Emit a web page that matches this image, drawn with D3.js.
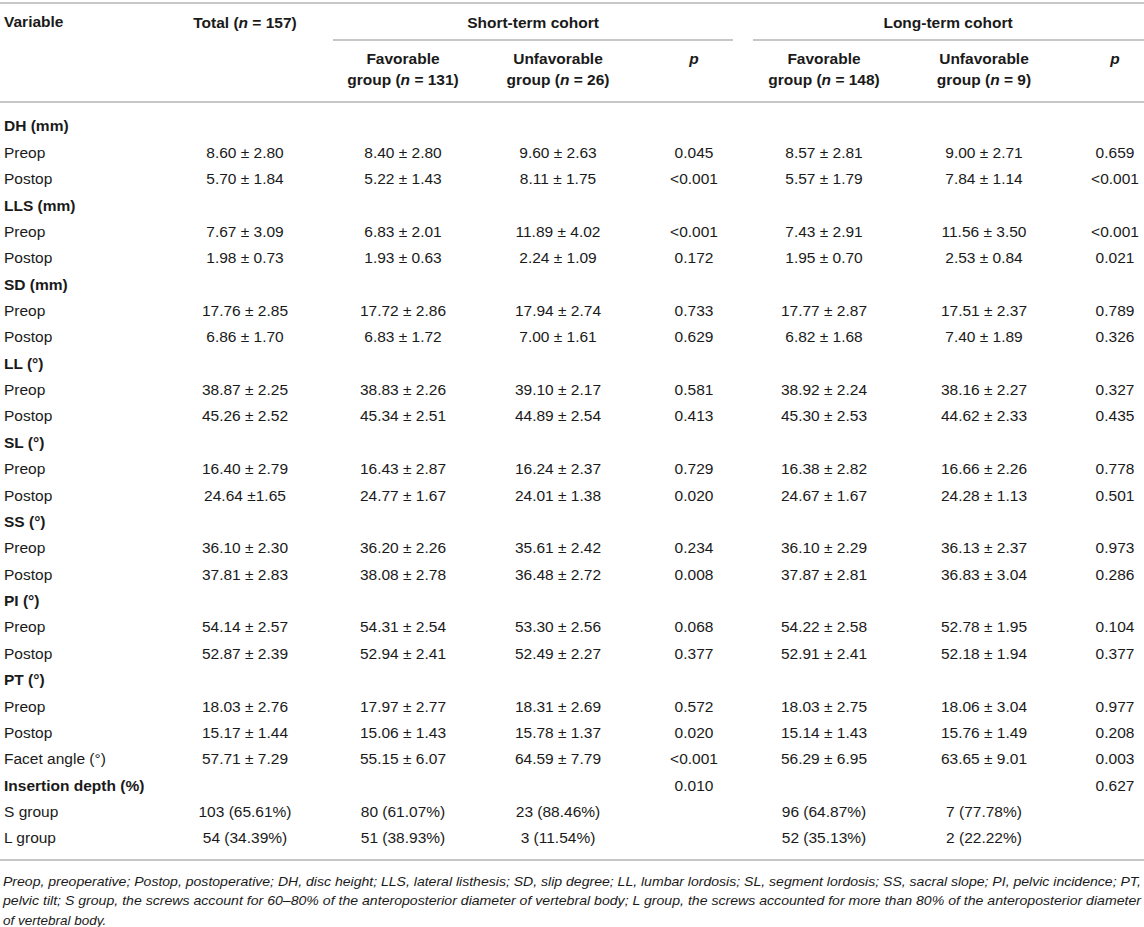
<!DOCTYPE html>
<html>
<head>
<meta charset="utf-8">
<script src="https://cdn.jsdelivr.net/npm/d3@7"></script>
<style>
  body { margin: 0; background: #fff; }
  svg text { font-family: "Liberation Sans", Arial, sans-serif; fill: #1a1a1a; }
  .rule { stroke: #b4b4b4; stroke-width: 1.6; }
</style>
</head>
<body>
<svg id="table"></svg>
<script>
// row labels, bold ones are section headers
var rowLabels = ["DH (mm)", "Preop", "Postop", "LLS (mm)", "Preop", "Postop", "SD (mm)", "Preop", "Postop",
    "LL (°)", "Preop", "Postop", "SL (°)", "Preop", "Postop", "SS (°)", "Preop", "Postop",
    "PI (°)", "Preop", "Postop", "PT (°)", "Preop", "Postop", "Facet angle (°)", "Insertion depth (%)",
    "S group", "L group"];
var sectionRows = ["DH (mm)", "LLS (mm)", "SD (mm)", "LL (°)", "SL (°)", "SS (°)", "PI (°)", "PT (°)", "Insertion depth (%)"];

var totalVals = ["", "8.60 ± 2.80", "5.70 ± 1.84", "", "7.67 ± 3.09", "1.98 ± 0.73", "", "17.76 ± 2.85", "6.86 ± 1.70",
    "", "38.87 ± 2.25", "45.26 ± 2.52", "", "16.40 ± 2.79", "24.64 ±1.65", "", "36.10 ± 2.30", "37.81 ± 2.83",
    "", "54.14 ± 2.57", "52.87 ± 2.39", "", "18.03 ± 2.76", "15.17 ± 1.44", "57.71 ± 7.29", "",
    "103 (65.61%)", "54 (34.39%)"];
var shortFav = ["", "8.40 ± 2.80", "5.22 ± 1.43", "", "6.83 ± 2.01", "1.93 ± 0.63", "", "17.72 ± 2.86", "6.83 ± 1.72",
    "", "38.83 ± 2.26", "45.34 ± 2.51", "", "16.43 ± 2.87", "24.77 ± 1.67", "", "36.20 ± 2.26", "38.08 ± 2.78",
    "", "54.31 ± 2.54", "52.94 ± 2.41", "", "17.97 ± 2.77", "15.06 ± 1.43", "55.15 ± 6.07", "",
    "80 (61.07%)", "51 (38.93%)"];
var shortUnfav = ["", "9.60 ± 2.63", "8.11 ± 1.75", "", "11.89 ± 4.02", "2.24 ± 1.09", "", "17.94 ± 2.74", "7.00 ± 1.61",
    "", "39.10 ± 2.17", "44.89 ± 2.54", "", "16.24 ± 2.37", "24.01 ± 1.38", "", "35.61 ± 2.42", "36.48 ± 2.72",
    "", "53.30 ± 2.56", "52.49 ± 2.27", "", "18.31 ± 2.69", "15.78 ± 1.37", "64.59 ± 7.79", "",
    "23 (88.46%)", "3 (11.54%)"];
var shortP = ["", "0.045", "<0.001", "", "<0.001", "0.172", "", "0.733", "0.629",
    "", "0.581", "0.413", "", "0.729", "0.020", "", "0.234", "0.008",
    "", "0.068", "0.377", "", "0.572", "0.020", "<0.001", "0.010", "", ""];
var longFav = ["", "8.57 ± 2.81", "5.57 ± 1.79", "", "7.43 ± 2.91", "1.95 ± 0.70", "", "17.77 ± 2.87", "6.82 ± 1.68",
    "", "38.92 ± 2.24", "45.30 ± 2.53", "", "16.38 ± 2.82", "24.67 ± 1.67", "", "36.10 ± 2.29", "37.87 ± 2.81",
    "", "54.22 ± 2.58", "52.91 ± 2.41", "", "18.03 ± 2.75", "15.14 ± 1.43", "56.29 ± 6.95", "",
    "96 (64.87%)", "52 (35.13%)"];
var longUnfav = ["", "9.00 ± 2.71", "7.84 ± 1.14", "", "11.56 ± 3.50", "2.53 ± 0.84", "", "17.51 ± 2.37", "7.40 ± 1.89",
    "", "38.16 ± 2.27", "44.62 ± 2.33", "", "16.66 ± 2.26", "24.28 ± 1.13", "", "36.13 ± 2.37", "36.83 ± 3.04",
    "", "52.78 ± 1.95", "52.18 ± 1.94", "", "18.06 ± 3.04", "15.76 ± 1.49", "63.65 ± 9.01", "",
    "7 (77.78%)", "2 (22.22%)"];
var longP = ["", "0.659", "<0.001", "", "<0.001", "0.021", "", "0.789", "0.326",
    "", "0.327", "0.435", "", "0.778", "0.501", "", "0.973", "0.286",
    "", "0.104", "0.377", "", "0.977", "0.208", "0.003", "0.627", "", ""];

var colKeys = ["total", "sFav", "sUnfav", "sP", "lFav", "lUnfav", "lP"];
var colHeads = [["Total (n = 157)"], ["Favorable", "group (n = 131)"], ["Unfavorable", "group (n = 26)"], ["p"],
    ["Favorable", "group (n = 148)"], ["Unfavorable", "group (n = 9)"], ["p"]];
var cohortLabels = ["Short-term cohort", "Long-term cohort"];
var footLines = [
    "Preop, preoperative; Postop, postoperative; DH, disc height; LLS, lateral listhesis; SD, slip degree; LL, lumbar lordosis; SL, segment lordosis; SS, sacral slope; PI, pelvic incidence; PT,",
    "pelvic tilt; S group, the screws account for 60–80% of the anteroposterior diameter of vertebral body; L group, the screws accounted for more than 80% of the anteroposterior diameter",
    "of vertebral body."
];

var W = 1144, H = 927;
var fs = "15.5px";
var svg = d3.select("#table").attr("width", W).attr("height", H);

var colX = d3.scaleOrdinal().domain(colKeys).range([245, 403, 558, 694, 824, 984, 1115]);
var y = d3.scalePoint().domain(d3.range(rowLabels.length)).range([126, 838]);
var columns = [totalVals, shortFav, shortUnfav, shortP, longFav, longUnfav, longP];

// header with italic n / p
function richText(sel, str) {
    var parts = str.split(/(\bn\b(?= =)|^p$)/);
    parts.forEach(function (p) {
        if (p === "") return;
        sel.append("tspan")
            .style("font-style", (p === "n" || p === "p") ? "italic" : null)
            .text(p);
    });
}

// rules
function rule(x1, x2, yy) {
    svg.append("line").attr("class", "rule")
        .attr("x1", x1).attr("x2", x2).attr("y1", yy).attr("y2", yy);
}
rule(0, W, 3);
rule(333, 733, 40);
rule(753, W, 40);
rule(0, W, 102);
rule(0, W, 860);

// header
svg.append("text").attr("x", 4).attr("y", 22).attr("dy", "0.35em")
    .style("font-weight", "bold").style("font-size", fs).text("Variable");

svg.selectAll("text.cohort").data(cohortLabels).enter().append("text")
    .attr("class", "cohort")
    .attr("x", function (d, i) { return i === 0 ? 533 : 948; })
    .attr("y", 23).attr("dy", "0.35em")
    .attr("text-anchor", "middle")
    .style("font-weight", "bold").style("font-size", fs)
    .text(function (d) { return d; });

colKeys.forEach(function (k, ci) {
    var lines = colHeads[ci];
    lines.forEach(function (ln, li) {
        var ty = ci === 0 ? 23 : 59 + li * 21;
        var t = svg.append("text")
            .attr("x", colX(k)).attr("y", ty).attr("dy", "0.35em")
            .attr("text-anchor", "middle")
            .style("font-weight", "bold").style("font-size", fs);
        richText(t, ln);
    });
});

// row labels
svg.selectAll("text.rowlab").data(rowLabels).enter().append("text")
    .attr("class", "rowlab")
    .attr("x", 4)
    .attr("y", function (d, i) { return y(i); })
    .attr("dy", "0.35em")
    .style("font-size", fs)
    .style("font-weight", function (d) { return sectionRows.indexOf(d) >= 0 ? "bold" : null; })
    .text(function (d) { return d; });

// body cells
columns.forEach(function (vals, ci) {
    svg.append("g").selectAll("text").data(vals).enter().append("text")
        .attr("x", colX(colKeys[ci]))
        .attr("y", function (d, i) { return y(i); })
        .attr("dy", "0.35em")
        .attr("text-anchor", "middle")
        .style("font-size", fs)
        .text(function (d) { return d; });
});

// footnote
svg.selectAll("text.foot").data(footLines).enter().append("text")
    .attr("class", "foot")
    .attr("x", 3)
    .attr("y", function (d, i) { return 881 + i * 19.5; })
    .attr("dy", "0.35em")
    .style("font-style", "italic").style("font-size", "13.5px")
    .attr("textLength", function (d, i) { return i < 2 ? 1138 : null; })
    .attr("lengthAdjust", "spacingAndGlyphs")
    .text(function (d) { return d; });
</script>
</body>
</html>
